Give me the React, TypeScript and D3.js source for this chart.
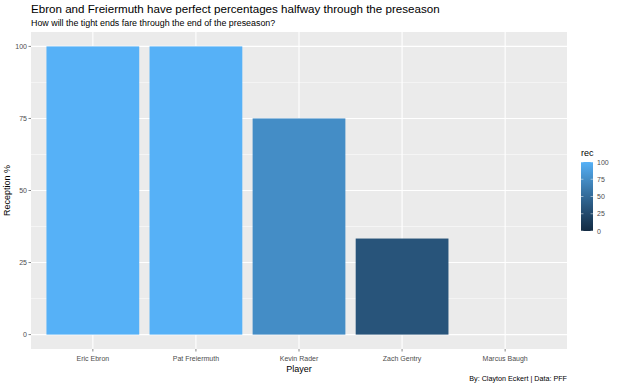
import React from "react";
import * as d3 from "d3";

const players = ["Eric Ebron", "Pat Freiermuth", "Kevin Rader", "Zach Gentry", "Marcus Baugh"];
const rec = [100, 100, 75, 33.33, 0];
const yTicks = [0, 25, 50, 75, 100];
const yMinor = [12.5, 37.5, 62.5, 87.5];
const legendTicks = [0, 25, 50, 75, 100];

const titleText = "Ebron and Freiermuth have perfect percentages halfway through the preseason";
const subtitleText = "How will the tight ends fare through the end of the preseason?";
const captionText = "By: Clayton Eckert | Data: PFF";

const W = 620;
const H = 386;
const FONT = "'Liberation Sans', Arial, Helvetica, sans-serif";

export default function App() {
  const panel = { left: 31, right: 567, top: 32, bottom: 349 };
  const x = d3
    .scaleBand<string>()
    .domain(players)
    .range([panel.left, panel.right])
    .paddingInner(0.1)
    .paddingOuter(0.15);
  const y = d3.scaleLinear().domain([-5, 105]).range([panel.bottom, panel.top]);
  const color = d3
    .scaleLinear<string>()
    .domain([0, 100])
    .range(["#132B43", "#56B1F7"])
    .interpolate(d3.interpolateLab);

  const leg = { x: 581, w: 12, top: 162, bottom: 231 };
  const ly = d3.scaleLinear().domain([0, 100]).range([leg.bottom, leg.top]);
  const stops = d3.range(0, 101, 5);

  const centers = players.map((p) => (x(p) as number) + x.bandwidth() / 2);

  return (
    <svg width={W} height={H} style={{ position: "absolute", left: 0, top: 0, background: "#fff" }}>
      <defs>
        <linearGradient id="recGrad" x1="0" y1="1" x2="0" y2="0">
          {stops.map((s) => (
            <stop key={s} offset={`${s}%`} stopColor={color(s)} />
          ))}
        </linearGradient>
      </defs>
      <rect x={0} y={0} width={W} height={H} fill="#fff" />
      <text x={31} y={13} fontFamily={FONT} fontSize={11.6} fill="#000">
        {titleText}
      </text>
      <text x={31} y={26} fontFamily={FONT} fontSize={8.9} fill="#000">
        {subtitleText}
      </text>

      <rect
        x={panel.left}
        y={panel.top}
        width={panel.right - panel.left}
        height={panel.bottom - panel.top}
        fill="#EBEBEB"
      />
      {yMinor.map((v) => (
        <line key={"mn" + v} x1={panel.left} x2={panel.right} y1={y(v)} y2={y(v)} stroke="#fff" strokeWidth={0.5} />
      ))}
      {yTicks.map((v) => (
        <line key={"mj" + v} x1={panel.left} x2={panel.right} y1={y(v)} y2={y(v)} stroke="#fff" strokeWidth={1.1} />
      ))}
      {centers.map((c, i) => (
        <line key={"vx" + i} x1={c} x2={c} y1={panel.top} y2={panel.bottom} stroke="#fff" strokeWidth={1.1} />
      ))}

      {players.map((p, i) => (
        <rect
          key={p}
          x={x(p)}
          y={y(Math.max(rec[i], 0))}
          width={x.bandwidth()}
          height={Math.max(0, y(0) - y(rec[i]))}
          fill={color(rec[i])}
        />
      ))}

      {yTicks.map((v) => (
        <g key={"yt" + v}>
          <line x1={panel.left - 2.5} x2={panel.left} y1={y(v)} y2={y(v)} stroke="#333" strokeWidth={0.6} />
          <text
            x={panel.left - 4}
            y={y(v)}
            textAnchor="end"
            dominantBaseline="central"
            fontFamily={FONT}
            fontSize={7}
            fill="#4D4D4D"
          >
            {v}
          </text>
        </g>
      ))}
      {players.map((p, i) => (
        <g key={"xt" + p}>
          <line x1={centers[i]} x2={centers[i]} y1={panel.bottom} y2={panel.bottom + 2.5} stroke="#333" strokeWidth={0.6} />
          <text x={centers[i]} y={361} textAnchor="middle" fontFamily={FONT} fontSize={7} fill="#4D4D4D">
            {p}
          </text>
        </g>
      ))}

      <text x={(panel.left + panel.right) / 2} y={372} textAnchor="middle" fontFamily={FONT} fontSize={9} fill="#000">
        Player
      </text>
      <text
        transform={`translate(10, ${(panel.top + panel.bottom) / 2}) rotate(-90)`}
        textAnchor="middle"
        fontFamily={FONT}
        fontSize={9}
        fill="#000"
      >
        Reception %
      </text>
      <text x={panel.right} y={381} textAnchor="end" fontFamily={FONT} fontSize={7.2} fill="#000">
        {captionText}
      </text>

      <text x={leg.x} y={156} fontFamily={FONT} fontSize={9} fill="#000">
        rec
      </text>
      <rect x={leg.x} y={leg.top} width={leg.w} height={leg.bottom - leg.top} fill="url(#recGrad)" />
      {legendTicks.map((v) => (
        <g key={"lt" + v}>
          <line x1={leg.x} x2={leg.x + 2.4} y1={ly(v)} y2={ly(v)} stroke="#fff" strokeWidth={0.5} />
          <line x1={leg.x + leg.w - 2.4} x2={leg.x + leg.w} y1={ly(v)} y2={ly(v)} stroke="#fff" strokeWidth={0.5} />
          <text x={leg.x + leg.w + 4} y={ly(v)} dominantBaseline="central" fontFamily={FONT} fontSize={7} fill="#4D4D4D">
            {v}
          </text>
        </g>
      ))}
    </svg>
  );
}
